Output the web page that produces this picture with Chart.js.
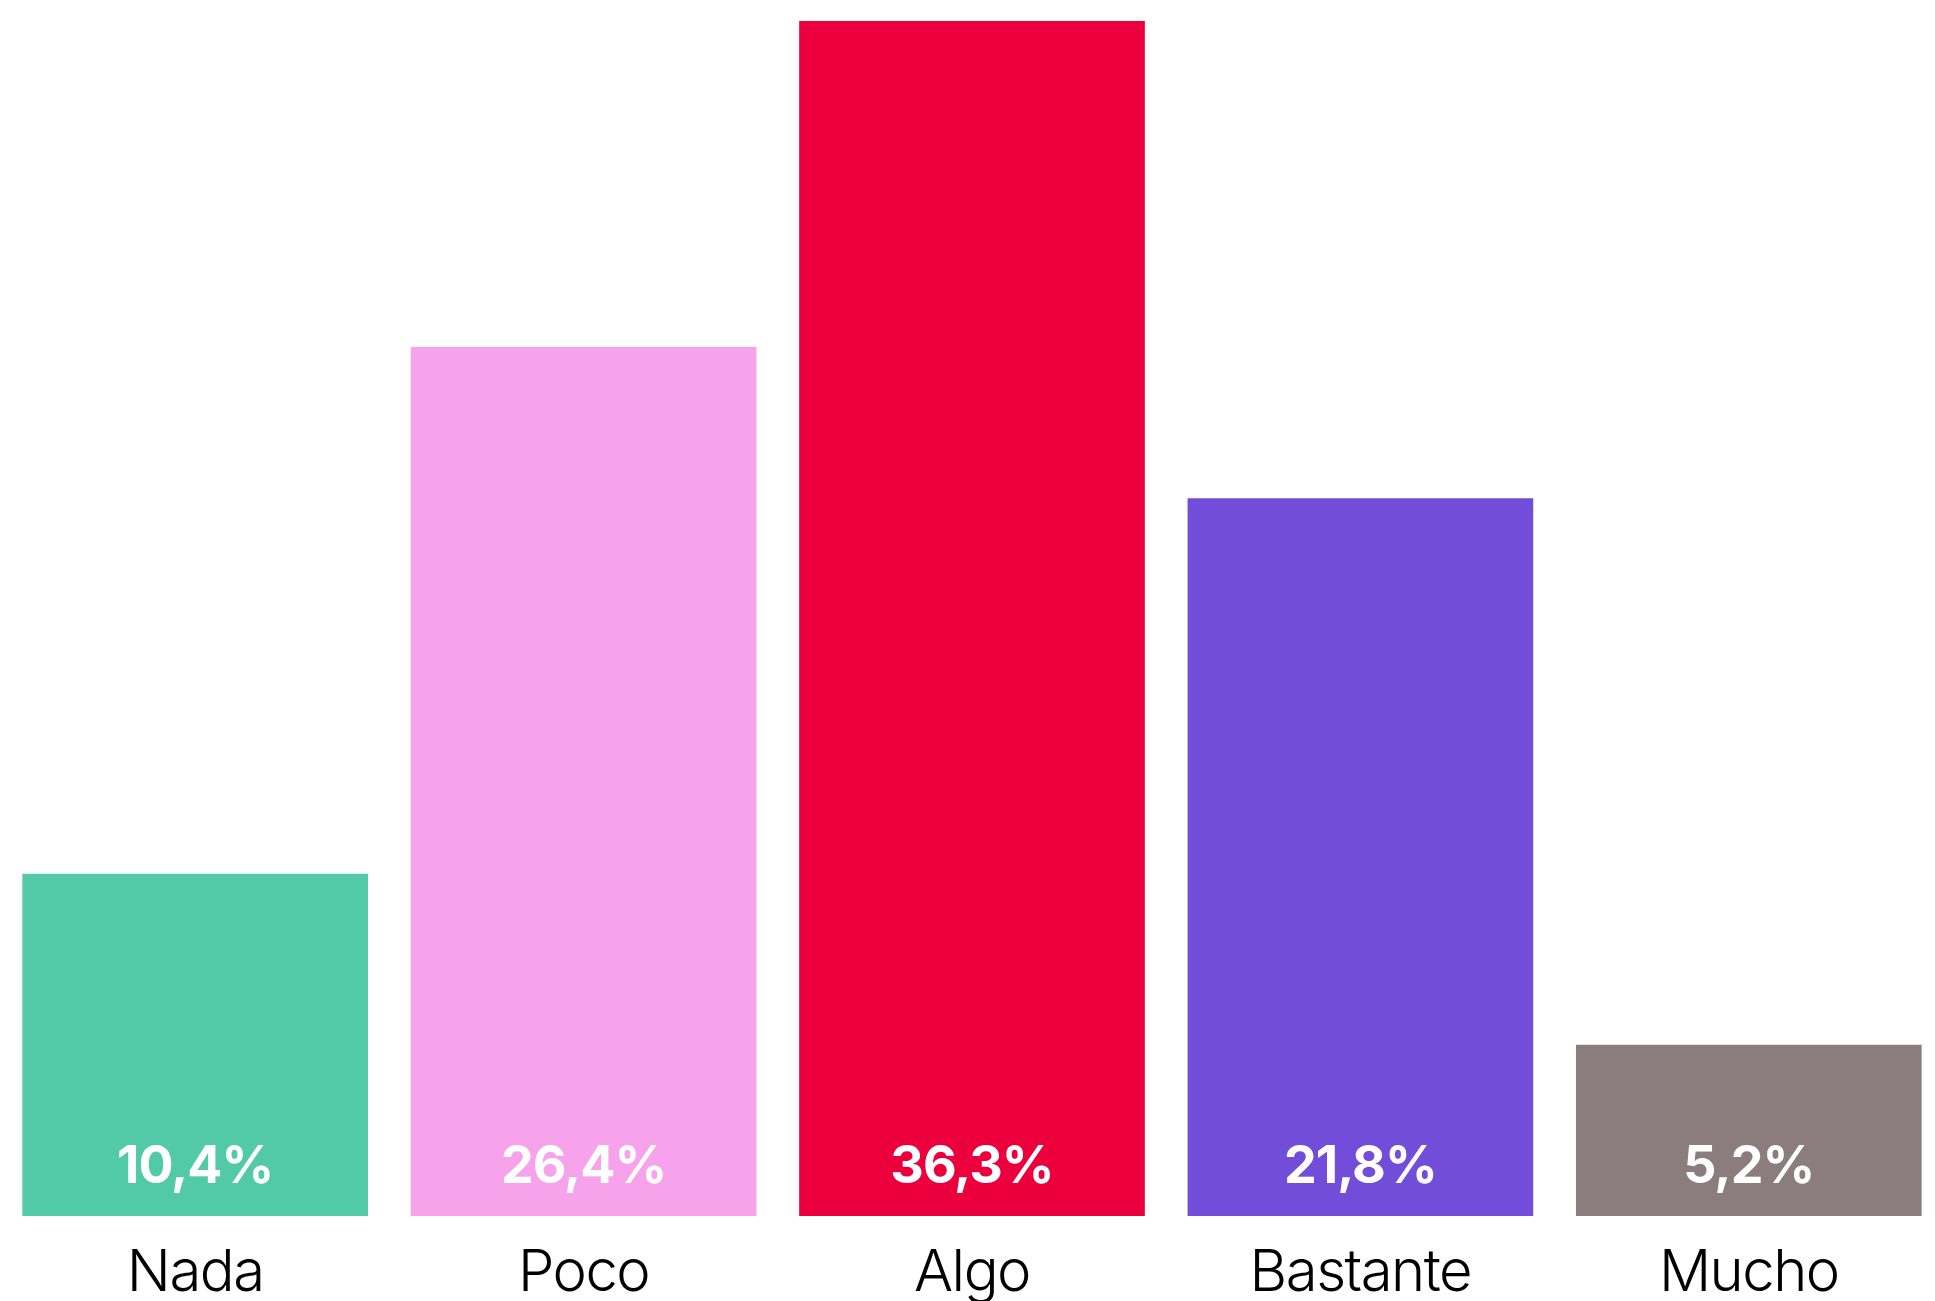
<!DOCTYPE html>
<html>
<head>
<meta charset="utf-8">
<script src="https://cdn.jsdelivr.net/npm/chart.js@4/dist/chart.umd.min.js"></script>
<style>
  html, body { margin: 0; padding: 0; background: #ffffff; overflow: hidden; }
  #wrap { width: 1943px; height: 1301px; position: relative; }
</style>
</head>
<body>
<div id="wrap"><canvas id="chart"></canvas></div>
<script>
// Response categories and share of answers (%)
const categories = ['Nada', 'Poco', 'Algo', 'Bastante', 'Mucho'];
const shares = [10.4, 26.4, 36.3, 21.8, 5.2];
const valueLabels = ['10,4%', '26,4%', '36,3%', '21,8%', '5,2%'];
const barColors = ['#52C9A7', '#F6A3EC', '#EB003D', '#714DD9', '#8B7D7D'];

// Writes the percentage inside the foot of each bar and the category name below it
const barTexts = {
  id: 'barTexts',
  afterDatasetsDraw(chart) {
    const ctx = chart.ctx;
    const meta = chart.getDatasetMeta(0);
    const xScale = chart.scales.x;
    const hasSpacing = 'letterSpacing' in ctx;
    ctx.save();
    ctx.textAlign = 'center';
    ctx.textBaseline = 'alphabetic';

    ctx.fillStyle = '#ffffff';
    ctx.font = '700 52px Inter';
    if (hasSpacing) ctx.letterSpacing = '-1px';
    meta.data.forEach((bar, i) => {
      ctx.fillText(valueLabels[i], bar.x, bar.base - 33);
    });

    ctx.fillStyle = '#000000';
    ctx.font = '300 58px Inter';
    if (hasSpacing) ctx.letterSpacing = '-1.5px';
    categories.forEach((name, i) => {
      ctx.fillText(name, xScale.getPixelForValue(i), chart.chartArea.bottom + 75);
    });
    ctx.restore();
  }
};

new Chart(document.getElementById('chart'), {
  type: 'bar',
  data: {
    labels: categories,
    datasets: [{
      data: shares,
      backgroundColor: barColors,
      borderWidth: 0,
      barPercentage: 1,
      categoryPercentage: 0.89
    }]
  },
  options: {
    responsive: true,
    maintainAspectRatio: false,
    animation: false,
    layout: { padding: { top: 21, left: 1, right: 0, bottom: 85 } },
    plugins: { legend: { display: false }, tooltip: { enabled: false } },
    scales: {
      x: {
        display: false
      },
      y: {
        display: false,
        min: 0,
        max: 36.3
      }
    }
  },
  plugins: [barTexts]
});
</script>
</body>
</html>
